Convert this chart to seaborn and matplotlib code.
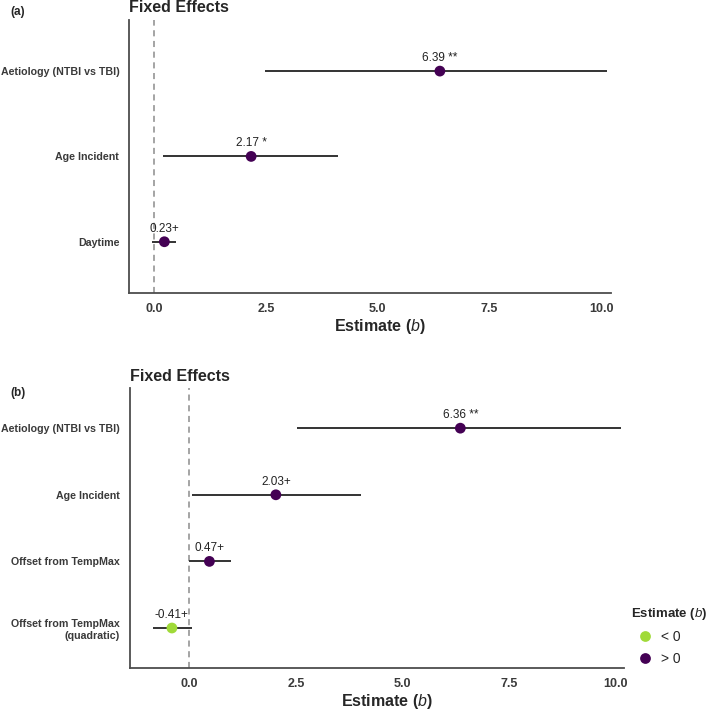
import pandas as pd
import matplotlib.pyplot as plt
import seaborn as sns

# Panel (a) values
terms_a = ["Aetiology (NTBI vs TBI)", "Age Incident", "Daytime"]
est_a = [6.39, 2.17, 0.23]
low_a = [2.49, 0.19, -0.04]
high_a = [10.13, 4.11, 0.48]
sig_a = [" **", " *", "+"]

# Panel (b) values
terms_b = ["Aetiology (NTBI vs TBI)", "Age Incident", "Offset from TempMax",
           "Offset from TempMax\n(quadratic)"]
est_b = [6.36, 2.03, 0.47, -0.41]
low_b = [2.53, 0.06, 0.00, -0.85]
high_b = [10.14, 4.02, 0.97, 0.05]
sig_b = [" **", "+", "+", "+"]

xticks = [0.0, 2.5, 5.0, 7.5, 10.0]
palette = {"< 0": "#a0da39", "> 0": "#440154"}

sns.set_style("white")
plt.rcParams['font.family'] = ['Liberation Sans', 'DejaVu Sans']
plt.rcParams['mathtext.fontset'] = 'custom'
plt.rcParams['mathtext.rm'] = 'Liberation Sans'
plt.rcParams['mathtext.it'] = 'Liberation Sans:italic'
plt.rcParams['mathtext.bf'] = 'Liberation Sans:bold'

fig = plt.figure(figsize=(7.09, 7.11), dpi=100)
ax_a = fig.add_axes([0.182, 0.588, 0.680, 0.384])
ax_b = fig.add_axes([0.183, 0.0605, 0.697, 0.3935])

xlabel = r"$\mathbf{Estimate\ (}\mathit{b}\mathbf{)}$"


def forest(ax, terms, est, low, high, sig, xlim, legend):
    df = pd.DataFrame({"term": terms, "est": est, "low": low, "high": high})
    df["sign"] = ["> 0" if v > 0 else "< 0" for v in df["est"]]
    df["pos"] = range(len(df))
    ax.axvline(0, color="#8c8c8c", lw=1.1, ls=(0, (4, 3)), zorder=1)
    ax.hlines(df["pos"], df["low"], df["high"], color="#333333", lw=1.4, zorder=2)
    sns.scatterplot(data=df, x="est", y="pos", hue="sign", hue_order=["< 0", "> 0"],
                    palette=palette, s=60, edgecolor="none", ax=ax, legend=legend,
                    zorder=3)
    for i, r in df.iterrows():
        ax.annotate(f"{r['est']:.2f}{sig[i]}", (r["est"], r["pos"]),
                    xytext=(0, 5), textcoords="offset points", ha="center",
                    va="bottom", fontsize=8.5, color="#222222")
    ax.set_yticks(df["pos"])
    ax.set_yticklabels(df["term"], fontweight="bold", fontsize=7.7, color="#3a3a3a")
    ax.set_ylim(len(df) - 0.4, -0.6)
    ax.set_xlim(*xlim)
    ax.set_xticks(xticks)
    ax.set_xticklabels([f"{t:.1f}" for t in xticks], fontweight="bold",
                       fontsize=9, color="#3a3a3a")
    ax.set_xlabel(xlabel, fontsize=11.5, labelpad=2)
    ax.xaxis.label.set_x(0.521)
    ax.set_ylabel("")
    ax.set_title("Fixed Effects", loc="left", fontweight="bold", fontsize=11.5, pad=5.5)
    sns.despine(ax=ax)
    for s in ["left", "bottom"]:
        ax.spines[s].set_color("#4d4d4d")
        ax.spines[s].set_linewidth(1.3)
    ax.tick_params(axis="both", length=5, width=1.1, color="#4d4d4d", pad=2)


forest(ax_a, terms_a, est_a, low_a, high_a, sig_a, (-0.56, 10.22), False)
forest(ax_b, terms_b, est_b, low_b, high_b, sig_b, (-1.40, 10.2), True)

leg = ax_b.legend(title=xlabel, loc="upper left", bbox_to_anchor=(1.0, 0.245),
                  frameon=False, fontsize=10, title_fontsize=9.5,
                  borderpad=0.2, borderaxespad=0.3,
                  handletextpad=0.2, labelspacing=0.55, alignment="left",
                  markerscale=1.0)

fig.text(0.014, 0.983, "(a)", fontweight="bold", fontsize=8.5, va="center")
fig.text(0.014, 0.447, "(b)", fontweight="bold", fontsize=8.5, va="center")

fig.savefig("out.png", dpi=100)
